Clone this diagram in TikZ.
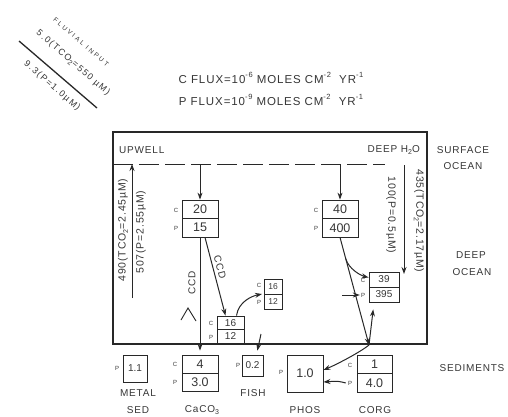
\documentclass[tikz,border=0pt]{standalone}
\usepackage{fontspec}
\setmainfont{Liberation Sans}[LetterSpace=8]
\newfontfamily\digf{Liberation Sans}
\newfontfamily\widef{Liberation Sans}[LetterSpace=32]
\newfontfamily\medf{Liberation Sans}[LetterSpace=16]
\usetikzlibrary{arrows.meta}
\definecolor{ink}{RGB}{40,40,40}
\definecolor{txt}{RGB}{55,55,55}
\newcommand\mysup[1]{\raisebox{0.95ex}{\fontsize{7.5}{7.5}\selectfont#1}}
\newcommand\mysub[1]{\raisebox{-0.45ex}{\fontsize{7}{7}\selectfont#1}}
\begin{document}
\begin{tikzpicture}[x=1pt,y=-1pt,
  every node/.style={text=txt, inner sep=0pt},
  ln/.style={draw=ink, line width=1pt},
  arr/.style={ln, -{Stealth[length=7pt,width=5pt]}},
  lab/.style={font=\fontsize{10}{10}\selectfont},
  flux/.style={font=\fontsize{11.5}{11.5}\selectfont},
  rlab/.style={font=\fontsize{10.5}{10.5}\selectfont},
  cp/.style={font=\digf\fontsize{6}{6}\selectfont},
  cell/.style={draw=ink, line width=0.8pt, font=\digf\fontsize{12.5}{12.5}\selectfont},
  cellmid/.style={cell, font=\digf\fontsize{10}{10}\selectfont},
  cellsmall/.style={cell, font=\digf\fontsize{8.5}{8.5}\selectfont}
]
\fill[white] (0,0) rectangle (508,416);
\useasboundingbox (0,0) rectangle (508,416);

% fluvial input
\draw[ink, line width=1.3pt] (19,41) -- (97,108);
\node[font=\widef\fontsize{6.5}{6.5}\selectfont, rotate=-40.7] (fin) at (81,42) {FLUVIAL INPUT};
\node[font=\medf\fontsize{9}{9}\selectfont, rotate=-40.7] (fc) at (73,63) {5.0(TCO\mysub{2}=550 µM)};
\node[font=\medf\fontsize{9}{9}\selectfont, rotate=-40.7] (fp) at (52,86) {9.3(P=1.0µM)};

% flux units
\node[flux] (cf) at (271,78) {C FLUX=10\mysup{-6} MOLES CM\mysup{-2}\ \ YR\mysup{-1}};
\node[flux] (pf) at (271,100) {P FLUX=10\mysup{-9} MOLES CM\mysup{-2}\ \ YR\mysup{-1}};

% ocean box
\draw[ink, line width=1.2pt] (113,132) rectangle (427,344);
\draw[ln, dash pattern=on 20pt off 6pt] (113,164) -- (385,164);
\node[lab, anchor=west] (upw) at (119,150) {UPWELL};
\node[lab, anchor=east] (deep) at (420,150) {DEEP H\mysub{2}O};

% right labels
\node[lab] (s1) at (463,150) {SURFACE};
\node[lab] (s2) at (463,166) {OCEAN};
\node[lab] (d1) at (471,255) {DEEP};
\node[lab] (d2) at (472,272) {OCEAN};
\node[lab] (sd) at (472,368) {SEDIMENTS};

% upwelling / deep water arrows
\coordinate (u0) at (132,298);
\coordinate (u1) at (132,164);
\draw[arr] (u0) -- (u1);
\node[rlab, rotate=90] (ul1) at (123,230) {490(TCO\mysub{2}=2.45µM)};
\node[rlab, rotate=90] (ul2) at (141,232) {507(P=2.55µM)};
\coordinate (v0) at (404,165);
\coordinate (v1) at (404,274);
\draw[arr] (v0) -- (v1);
\node[rlab, rotate=-90] (vl1) at (391,215) {100(P=0.5µM)};
\node[rlab, rotate=-90] (vl2) at (419,221) {435(TCO\mysub{2}=2.17µM)};

% water column boxes
\node[cell, minimum width=36pt, minimum height=18.5pt] (b20c) at (200,209.25) {20};
\node[cell, minimum width=36pt, minimum height=18.5pt] (b20p) at (200,227.75) {15};
\node[cp] at (176,210) {C};
\node[cp] at (176,228) {P};
\node[cell, minimum width=36pt, minimum height=18.5pt] (b40c) at (340,209.25) {40};
\node[cell, minimum width=36pt, minimum height=18.5pt] (b40p) at (340,227.75) {400};
\node[cp] at (316,210) {C};
\node[cp] at (316,228) {P};
\node[cellmid, minimum width=27pt, minimum height=13.5pt] (b16c) at (230.5,322.75) {16};
\node[cellmid, minimum width=27pt, minimum height=13.5pt] (b16p) at (230.5,336.25) {12};
\node[cp] at (211,323) {C};
\node[cp] at (211,337) {P};
\node[cellsmall, minimum width=18pt, minimum height=15pt] (bsc) at (273,286.5) {16};
\node[cellsmall, minimum width=18pt, minimum height=15pt] (bsp) at (273,301.5) {12};
\node[cp] (bscl) at (259,285) {C};
\node[cp] at (259,302) {P};
\node[cellmid, minimum width=30pt, minimum height=15pt] (b39c) at (384,279.5) {39};
\node[cellmid, minimum width=30pt, minimum height=15pt] (b39p) at (384,294.5) {395};
\node[cp] at (363,280) {C};
\node[cp] (b39pl) at (363,295) {P};

% sediment boxes
\node[cellmid, minimum width=24pt, minimum height=27pt] (metal) at (135,368.5) {1.1};
\node[cp] at (117,368) {P};
\node[cell, minimum width=36pt, minimum height=18pt] (cacc) at (200,364) {4};
\node[cell, minimum width=36pt, minimum height=18pt] (cacp) at (200,382) {3.0};
\node[cp] at (175,364) {C};
\node[cp] at (175,382) {P};
\node[cellmid, minimum width=21pt, minimum height=21pt] (fish) at (252.5,365.5) {0.2};
\node[cp] at (238,365) {P};
\node[cell, minimum width=36pt, minimum height=37pt] (phos) at (305,373.5) {1.0};
\node[cp] at (281,372) {P};
\node[cell, minimum width=35pt, minimum height=18.5pt] (corgc) at (374.5,364.25) {1};
\node[cell, minimum width=35pt, minimum height=18.5pt] (corgp) at (374.5,382.75) {4.0};
\node[cp] at (350,365) {C};
\node[cp] (corgpl) at (350,383) {P};

% bottom labels
\node[lab] (lm1) at (138,393) {METAL};
\node[lab] (lm2) at (138,410) {SED};
\node[lab] (lca) at (202,410) {CaCO\mysub{3}};
\node[lab] (lfi) at (253,393) {FISH};
\node[lab] (lph) at (305,410) {PHOS};
\node[lab] (lco) at (375,410) {CORG};

% CaCO3 path
\coordinate (d20) at (200,164);
\coordinate (d40) at (340,164);
\draw[arr] (d20) -- (b20c.north);
\draw[arr] (d40) -- (b40c.north);
\draw[arr, shorten >=4pt] (b20p.south) -- (cacc.north);
\node[lab, rotate=90] (ccd1) at (192,283) {CCD};
\draw[ink, line width=0.9pt] (181,320) -- (188,308) -- (196,321);
\draw[arr] ([xshift=5pt]b20p.south) -- ([xshift=-5pt]b16c.north);
\node[lab, rotate=-74.7] (ccd2) at (220,267) {CCD};
\draw[arr] ([xshift=6pt]b16c.north) .. controls +(2,-14) and +(-10,2) .. (262,294);
\coordinate (fs) at (261,334);
\draw[arr, shorten >=4pt] (fs) -- ([xshift=4pt]fish.north);

% organic carbon path
\coordinate (vx) at (369,345);
\draw[arr] (b40p.south) -- (vx);
\path (b40p.south) -- (vx) coordinate[pos=0.2] (q1);
\draw[arr] (q1) .. controls +(3,10) and +(-8,-2) .. ([yshift=2pt]b39c.west);
\coordinate (pa) at (342,295);
\draw[arr] (pa) -- ([xshift=-1pt]b39pl.west);
\draw[arr, shorten >=7pt] (vx) -- ([xshift=-10pt]b39p.south);
\draw[arr] (vx) .. controls +(-10,8) and +(12,-5) .. ([yshift=3.5pt]phos.east);
\draw[arr] ([xshift=-2pt]corgpl.west) .. controls +(-8,-2) .. ([yshift=-8.5pt]phos.east);
\end{tikzpicture}
\end{document}
